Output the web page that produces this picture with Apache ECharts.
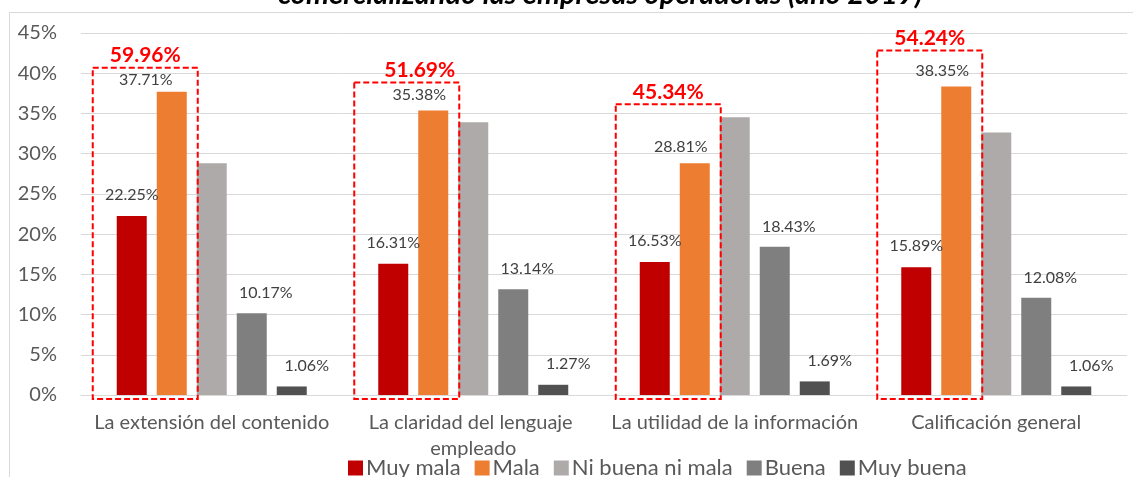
<!DOCTYPE html>
<html>
<head>
<meta charset="utf-8">
<title>Calificación de la información</title>
<script src="https://cdn.jsdelivr.net/npm/echarts@6/dist/echarts.min.js"></script>
<style>
    html, body { margin: 0; padding: 0; background: #fff; }
    #chart { width: 1133px; height: 477px; }
</style>
</head>
<body>
<div id="chart"></div>
<script>

// Data
// ------------------------------

var titleText = 'comercializando las empresas operadoras (año 2019)';
var categories = ['La extensión del contenido', 'La claridad del lenguaje empleado', 'La utilidad de la información', 'Calificación general'];
var seriesNames = ['Muy mala', 'Mala', 'Ni buena ni mala', 'Buena', 'Muy buena'];
var muyMala = [22.25, 16.31, 16.53, 15.89];
var mala = [37.71, 35.38, 28.81, 38.35];
var niBuenaNiMala = [28.81, 33.90, 34.54, 32.62];
var buena = [10.17, 13.14, 18.43, 12.08];
var muyBuena = [1.06, 1.27, 1.69, 1.06];
var yTicks = [0, 5, 10, 15, 20, 25, 30, 35, 40, 45];


// Styles / layout
// ------------------------------

var colors = ['#C00000', '#ED7D31', '#AEAAAA', '#7F7F7F', '#515151'];
var fontFamily = 'Lato, Calibri, Carlito, sans-serif';
var barWidth = 30;
var barStep = 40;
// label offsets per series (px), Excel labels were dragged around by hand
var labelOffset = [[0, -8], [-14, -3], null, [14, -7], [15, -8]];
var malaFirstOffset = [-26, 1];
// red dashed boxes: px above the taller bar, and text shift
var boxPadTop = [24, 28, 59, 36];
var boxTextDx = [0, 13, 0, 0];


var chartDom = document.getElementById('chart');
var chart = echarts.init(chartDom, null, { renderer: 'canvas' });

var allValues = [muyMala, mala, niBuenaNiMala, buena, muyBuena];

var barSeries = seriesNames.map(function(name, s) {
    var data = allValues[s].map(function(v, i) {
        var item = { value: v };
        if (s === 1 && i === 0) {
            item.label = { offset: malaFirstOffset };
        }
        return item;
    });
    return {
        name: name,
        type: 'bar',
        barWidth: barWidth,
        barGap: ((barStep - barWidth) / barWidth * 100) + '%',
        itemStyle: { color: colors[s] },
        label: {
            show: labelOffset[s] !== null,
            position: 'top',
            offset: labelOffset[s] || [0, 0],
            color: '#404040',
            fontSize: 16,
            fontFamily: fontFamily,
            formatter: function(p) { return p.value.toFixed(2) + '%'; }
        },
        data: data
    };
});

// Dashed box around "Muy mala" + "Mala" with their sum
var boxSeries = {
    name: 'suma',
    type: 'custom',
    z: 5,
    clip: false,
    silent: true,
    data: categories.map(function(c, i) { return [i, muyMala[i] + mala[i]]; }),
    encode: { x: 0, y: 1 },
    renderItem: function(params, api) {
        var i = api.value(0);
        var base = api.coord([i, 0]);
        var groupStart = base[0] - (5 * barWidth + 4 * (barStep - barWidth)) / 2;
        var x0 = groupStart - 24;
        var x1 = groupStart + barStep + barWidth + 11;
        var topY = api.coord([i, Math.max(muyMala[i], mala[i])])[1] - boxPadTop[i];
        var bottomY = base[1] + 4;
        return {
            type: 'group',
            children: [{
                type: 'rect',
                shape: { x: x0, y: topY, width: x1 - x0, height: bottomY - topY },
                style: { fill: 'none', stroke: '#FF0000', lineWidth: 2, lineDash: [6, 3] }
            }, {
                type: 'text',
                style: {
                    text: api.value(1).toFixed(2) + '%',
                    x: (x0 + x1) / 2 + boxTextDx[i],
                    y: topY - 2,
                    align: 'center',
                    verticalAlign: 'bottom',
                    fill: '#FF0000',
                    font: 'bold 21px ' + fontFamily
                }
            }]
        };
    }
};

chart.setOption({
    animation: false,
    color: colors,
    textStyle: { fontFamily: fontFamily },

    title: {
        text: titleText,
        left: 278,
        top: -20,
        padding: 0,
        textStyle: {
            fontSize: 29,
            fontWeight: 'bold',
            fontStyle: 'italic',
            color: '#000',
            fontFamily: fontFamily
        }
    },

    // chart frame
    graphic: [{
        type: 'rect',
        silent: true,
        z: -10,
        shape: { x: 9.5, y: 12.5, width: 1300, height: 600 },
        style: { fill: 'none', stroke: '#D9D9D9', lineWidth: 1 }
    }],

    legend: {
        data: seriesNames,
        left: 343,
        top: 452,
        itemWidth: 15,
        itemHeight: 15,
        itemGap: 14,
        icon: 'rect',
        textStyle: { fontSize: 22, lineHeight: 22, color: '#595959', fontFamily: fontFamily, padding: [0, 0, 0, -2] }
    },

    grid: {
        left: 81,
        right: 6,
        top: 33,
        bottom: 82,
        containLabel: false
    },

    xAxis: {
        type: 'category',
        data: categories,
        axisLine: { show: true, lineStyle: { color: '#D9D9D9' } },
        axisTick: { show: false },
        axisLabel: {
            color: '#595959',
            fontSize: 20,
            margin: 15,
            lineHeight: 26,
            width: 258,
            overflow: 'break',
            interval: 0
        }
    },

    yAxis: {
        type: 'value',
        min: yTicks[0],
        max: yTicks[yTicks.length - 1],
        interval: yTicks[1] - yTicks[0],
        axisLine: { show: false },
        axisTick: { show: false },
        splitLine: { lineStyle: { color: '#D9D9D9', width: 1 } },
        axisLabel: {
            color: '#595959',
            fontSize: 20,
            margin: 24,
            formatter: '{value}%'
        }
    },

    series: barSeries.concat([boxSeries])
});

window.addEventListener('resize', function() {
    chart.resize();
});

</script>
</body>
</html>
